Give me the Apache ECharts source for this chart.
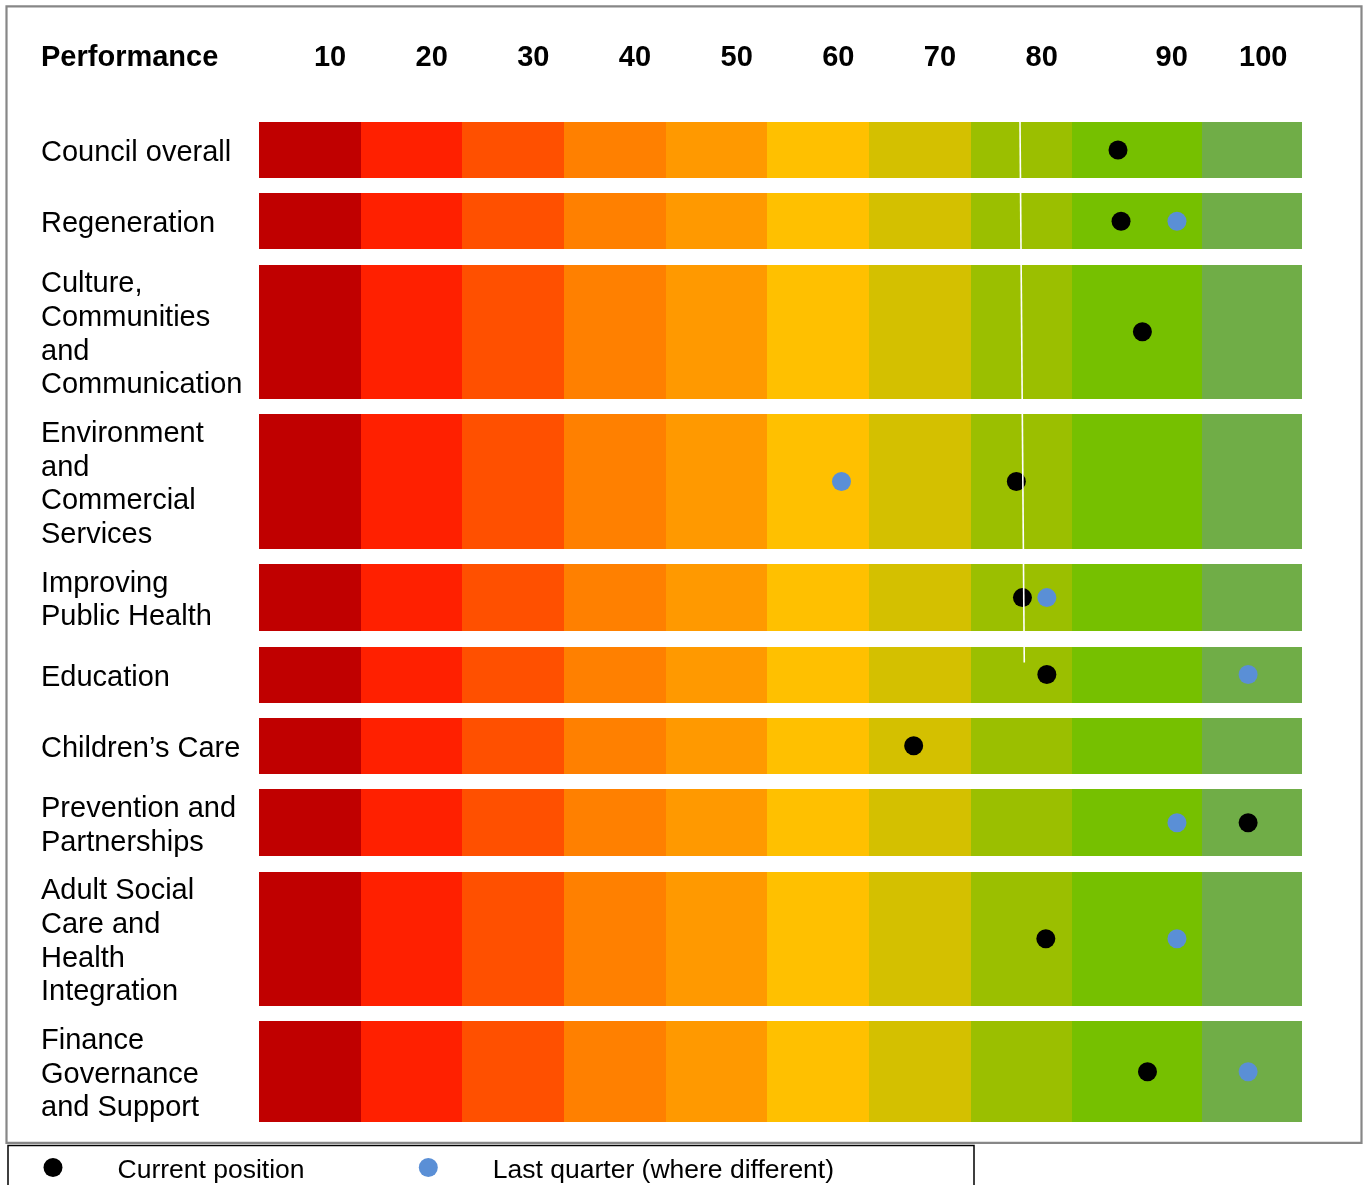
<!DOCTYPE html>
<html>
<head>
<meta charset="utf-8">
<script src="https://cdn.jsdelivr.net/npm/echarts@6/dist/echarts.min.js"></script>
<style>
  html, body { margin: 0; padding: 0; background: #ffffff; }
  #chart { width: 1363px; height: 1185px; }
</style>
</head>
<body>
<div id="chart"></div>
<script>
// ---- Data ----------------------------------------------------------------
const areas = [
  'Council overall',
  'Regeneration',
  'Culture,\nCommunities\nand\nCommunication',
  'Environment\nand\nCommercial\nServices',
  'Improving\nPublic Health',
  'Education',
  'Children\u2019s Care',
  'Prevention and\nPartnerships',
  'Adult Social\nCare and\nHealth\nIntegration',
  'Finance\nGovernance\nand Support'
];
// Position on the performance scale (same units as bandEdges)
const currentPosition = [84.5, 84.8, 86.9, 74.5, 75.1, 77.5, 64.4, 97.3, 77.4, 87.4];
const lastQuarter     = [null, 90.3, null, 57.3, 77.5, 97.3, null, 90.3, 90.3, 97.3];
// Edges of the ten performance bands
const bandEdges   = [0, 10, 20, 30, 40, 50, 60, 70, 80, 92.8, 102.6];
const scoreLabels = ['10', '20', '30', '40', '50', '60', '70', '80', '90', '100'];
// Target marker running down the upper rows (x at top, x at bottom)
const targetLine  = [[74.86, 1], [75.28, 0]];

// ---- Styling / layout ----------------------------------------------------
const bandColors = ['#C00000', '#FF2000', '#FF5000', '#FF8000', '#FF9900',
                    '#FFC000', '#D4C000', '#9BBF00', '#76C000', '#70AD47'];
const FONT = '"Liberation Sans", Arial, sans-serif';
const GRID_LEFT = 259, GRID_WIDTH = 1043;
const ROW_TOP = 122, ROW_GAP = 15.3, LINE_H = 33.6, MIN_ROW_H = 56;
const X_MIN = bandEdges[0], X_MAX = bandEdges[bandEdges.length - 1];

let cursor = ROW_TOP;
const rows = areas.map(a => {
  const h = Math.max(MIN_ROW_H, a.split('\n').length * LINE_H);
  const r = { top: cursor, height: h };
  cursor += h + ROW_GAP;
  return r;
});

const bandData = scoreLabels.map((_, k) => [bandEdges[k], bandEdges[k + 1], k, 0]);

function renderBand(params, api) {
  const p0 = api.coord([api.value(0), 0]);
  const p1 = api.coord([api.value(1), 0]);
  const h = api.size([0, 1])[1];
  const x0 = Math.round(p0[0]), x1 = Math.round(p1[0]);
  const y0 = Math.round(p0[1] - h / 2), y1 = Math.round(p0[1] + h / 2);
  return {
    type: 'rect',
    shape: { x: x0, y: y0, width: x1 - x0, height: y1 - y0 },
    style: { fill: bandColors[api.value(2)] }
  };
}

// Row label: a thin spacer line on top nudges the text block slightly downward
function rowLabel(v) {
  return '{sp|\u00a0}\n' + v.split('\n').map(l => '{a|' + l + '}').join('\n');
}

const grids = [], xAxes = [], yAxes = [], series = [];

rows.forEach((r, i) => {
  grids.push({ left: GRID_LEFT, width: GRID_WIDTH, top: r.top, height: r.height });
  const xa = { gridIndex: i, type: 'value', min: X_MIN, max: X_MAX, show: false };
  if (i === 0) {
    Object.assign(xa, {
      show: true,
      position: 'top',
      axisLine: { show: false },
      axisTick: { show: false },
      splitLine: { show: false },
      axisLabel: {
        customValues: bandEdges.slice(1),
        showMinLabel: true,
        showMaxLabel: true,
        formatter: v => scoreLabels[bandEdges.indexOf(v) - 1],
        align: 'right',
        padding: [0, 14.5, 0, 0],
        margin: 50,
        fontSize: 29,
        fontWeight: 'bold',
        fontFamily: FONT,
        color: '#000'
      }
    });
  }
  xAxes.push(xa);
  yAxes.push({
    gridIndex: i,
    type: 'category',
    data: [areas[i]],
    axisLine: { show: false },
    axisTick: { show: false },
    splitLine: { show: false },
    axisLabel: {
      align: 'left',
      margin: GRID_LEFT - 41,
      fontSize: 29,
      lineHeight: LINE_H,
      fontFamily: FONT,
      color: '#000',
      formatter: rowLabel,
      rich: {
        sp: { fontSize: 2, lineHeight: 6, height: 6 },
        a: { fontSize: 29, lineHeight: LINE_H, fontFamily: FONT, color: '#000' }
      }
    }
  });
  series.push({
    type: 'custom',
    xAxisIndex: i, yAxisIndex: i,
    renderItem: renderBand,
    encode: { x: [0, 1], y: 3 },
    data: bandData,
    silent: true,
    z: 1
  });
  if (lastQuarter[i] != null) {
    series.push({
      name: 'Last quarter (where different)',
      type: 'scatter',
      xAxisIndex: i, yAxisIndex: i,
      symbol: 'circle', symbolSize: 19,
      itemStyle: { color: '#5A8FD6', opacity: 1 },
      data: [[lastQuarter[i], 0]],
      z: 3
    });
  }
  series.push({
    name: 'Current position',
    type: 'scatter',
    xAxisIndex: i, yAxisIndex: i,
    symbol: 'circle', symbolSize: 19,
    itemStyle: { color: '#000000', opacity: 1 },
    data: [[currentPosition[i], 0]],
    z: 4
  });
});

// Overlay grid for the target marker line
const tIdx = rows.length;
const tTop = rows[0].top, tBottom = rows[5].top + 16;
grids.push({ left: GRID_LEFT, width: GRID_WIDTH, top: tTop, height: tBottom - tTop });
xAxes.push({ gridIndex: tIdx, type: 'value', min: X_MIN, max: X_MAX, show: false });
yAxes.push({ gridIndex: tIdx, type: 'value', min: 0, max: 1, show: false });
series.push({
  type: 'line',
  xAxisIndex: tIdx, yAxisIndex: tIdx,
  data: targetLine,
  symbol: 'none',
  silent: true,
  lineStyle: { color: '#ffffff', width: 1.6 },
  z: 10
});

const legendText = {
  fontSize: 26.5, fontFamily: FONT, color: '#000',
  rich: { t: { fontSize: 26.5, fontFamily: FONT, color: '#000', padding: [7, 0, 0, 50] } }
};

const option = {
  animation: false,
  backgroundColor: '#ffffff',
  title: {
    text: 'Performance',
    left: 41, top: 43, padding: 0,
    textStyle: { fontSize: 29, fontWeight: 'bold', fontFamily: FONT, color: '#000' }
  },
  legend: [
    {
      data: ['Current position'],
      left: 43.5, top: 1157.5,
      icon: 'circle', itemWidth: 19, itemHeight: 19, padding: 0,
      formatter: '{t|{name}}',
      textStyle: legendText
    },
    {
      data: ['Last quarter (where different)'],
      left: 418.8, top: 1157.5,
      icon: 'circle', itemWidth: 19, itemHeight: 19, padding: 0,
      formatter: '{t|{name}}',
      textStyle: legendText
    }
  ],
  grid: grids,
  xAxis: xAxes,
  yAxis: yAxes,
  series: series,
  graphic: [
    {
      type: 'rect', silent: true, z: 100,
      shape: { x: 6.5, y: 6.3, width: 1355, height: 1136.5 },
      style: { fill: 'none', stroke: '#878787', lineWidth: 2.2 }
    },
    {
      type: 'rect', silent: true, z: 100,
      shape: { x: 8, y: 1145.5, width: 966, height: 60 },
      style: { fill: 'none', stroke: '#000000', lineWidth: 1.5 }
    }
  ]
};

const chart = echarts.init(document.getElementById('chart'), null, { renderer: 'canvas' });
chart.setOption(option);
</script>
</body>
</html>
